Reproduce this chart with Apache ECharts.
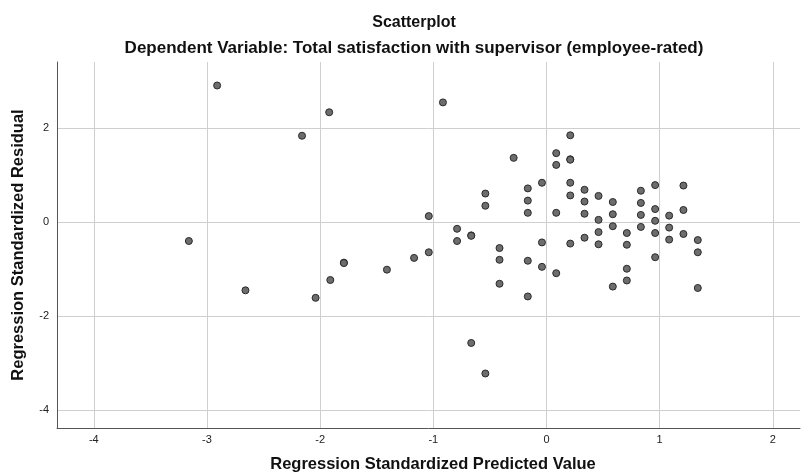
<!DOCTYPE html>
<html>
<head>
<meta charset="utf-8">
<script src="https://cdn.jsdelivr.net/npm/echarts@6/dist/echarts.min.js"></script>
<style>html,body{margin:0;padding:0;background:#fff}#c{width:802px;height:474px}</style>
</head>
<body>
<div id="c"></div>
<script>
const titleText = 'Scatterplot';
const subtitleText = 'Dependent Variable: Total satisfaction with supervisor (employee-rated)';
const xAxisTitle = 'Regression Standardized Predicted Value';
const yAxisTitle = 'Regression Standardized Residual';
const xTicks = [-4, -3, -2, -1, 0, 1, 2];
const yTicks = [-4, -2, 0, 2];
const predicted = [
  -3.16, -2.91, -2.66, -2.16, -2.04, -1.92, -1.91, -1.79, -1.79, -1.41,
  -1.17, -1.04, -1.04, -0.915, -0.79, -0.79, -0.665, -0.665, -0.665, -0.54,
  -0.54, -0.54, -0.415, -0.415, -0.415, -0.29, -0.165, -0.165, -0.165, -0.165,
  -0.165, -0.04, -0.04, -0.04, 0.086, 0.086, 0.086, 0.086, 0.21, 0.21,
  0.21, 0.21, 0.21, 0.21, 0.336, 0.336, 0.336, 0.336, 0.46, 0.46,
  0.46, 0.46, 0.586, 0.586, 0.586, 0.586, 0.71, 0.71, 0.71, 0.71,
  0.834, 0.834, 0.834, 0.834, 0.96, 0.96, 0.96, 0.96, 0.96, 1.084,
  1.084, 1.084, 1.21, 1.21, 1.21, 1.337, 1.337, 1.337
];
const residual = [
  -0.40, 2.91, -1.45, 1.84, -1.61, 2.34, -1.23, -0.86, -0.87, -1.01,
  -0.76, 0.13, -0.64, 2.55, -0.14, -0.40, -0.28, -0.29, -2.57, 0.61,
  0.35, -3.22, -0.55, -0.80, -1.31, 1.37, 0.72, 0.46, 0.20, -0.82,
  -1.58, 0.84, -0.43, -0.95, 1.47, 1.22, 0.20, -1.085, 1.85, 1.34,
  0.84, 0.57, -0.455, 1.33, 0.69, 0.44, 0.18, -0.33, 0.56, 0.05,
  -0.21, -0.47, 0.43, 0.17, -0.085, -1.37, -0.23, -0.48, -0.99, -1.24,
  0.67, 0.41, 0.155, -0.10, 0.79, 0.28, 0.03, -0.23, -0.745, 0.14,
  -0.115, -0.37, 0.78, 0.26, -0.25, -0.38, -0.64, -1.40
];
const points = predicted.map((x, i) => [x, residual[i]]);

const chart = echarts.init(document.getElementById('c'), null, {renderer: 'canvas'});
const font = 'Liberation Sans, Arial, sans-serif';
chart.setOption({
  animation: false,
  backgroundColor: '#ffffff',
  title: [
    {text: titleText, left: 409, textAlign: 'center', top: 10,
     textStyle: {fontFamily: font, fontWeight: 'bold', fontSize: 16, color: '#111'}},
    {text: subtitleText, left: 409, textAlign: 'center', top: 35,
     textStyle: {fontFamily: font, fontWeight: 'bold', fontSize: 17, color: '#111'}}
  ],
  grid: {left: 57, right: 2, top: 62, bottom: 46, containLabel: false},
  xAxis: {
    type: 'value', min: -4.325, max: 2.24,
    axisLine: {show: true, onZero: false, lineStyle: {color: '#555', width: 1}},
    axisTick: {show: false, customValues: xTicks},
    axisLabel: {customValues: xTicks, fontFamily: font, fontSize: 11, color: '#222', margin: 6},
    splitLine: {show: true, lineStyle: {color: '#cfcfcf', width: 1}}
  },
  yAxis: {
    type: 'value', min: -4.38, max: 3.41,
    axisLine: {show: true, onZero: false, lineStyle: {color: '#555', width: 1}},
    axisTick: {show: false, customValues: yTicks},
    axisLabel: {customValues: yTicks, fontFamily: font, fontSize: 11, color: '#222', margin: 8},
    splitLine: {show: true, lineStyle: {color: '#cfcfcf', width: 1}}
  },
  graphic: [
    {type: 'text', x: 433, y: 464,
     style: {text: xAxisTitle, align: 'center', verticalAlign: 'middle',
             font: 'bold 16.5px Liberation Sans, Arial, sans-serif', fill: '#111'}},
    {type: 'text', x: 18, y: 245, rotation: Math.PI / 2,
     style: {text: yAxisTitle, align: 'center', verticalAlign: 'middle',
             font: 'bold 16.5px Liberation Sans, Arial, sans-serif', fill: '#111'}}
  ],
  series: [{
    type: 'scatter',
    data: points,
    symbol: 'circle',
    symbolSize: 7,
    itemStyle: {color: '#6d6d6d', borderColor: '#2a2a2a', borderWidth: 1, opacity: 1}
  }]
});
</script>
</body>
</html>
